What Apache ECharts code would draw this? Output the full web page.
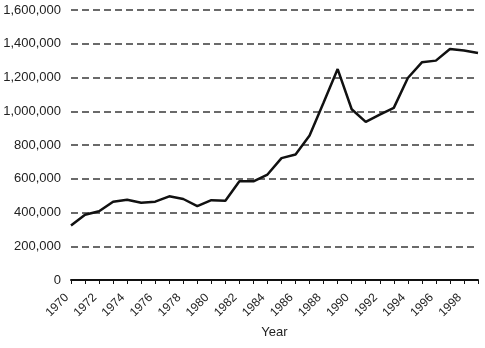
<!DOCTYPE html>
<html>
<head>
<meta charset="utf-8">
<script src="https://cdn.jsdelivr.net/npm/echarts@6/dist/echarts.min.js"></script>
<style>
html,body{margin:0;padding:0;background:#fff;}
#chart{width:485px;height:348px;}
</style>
</head>
<body>
<div id="chart"></div>
<script>
const years = ['1970','1971','1972','1973','1974','1975','1976','1977','1978','1979',
  '1980','1981','1982','1983','1984','1985','1986','1987','1988','1989',
  '1990','1991','1992','1993','1994','1995','1996','1997','1998','1999'];
const values = [323000, 387000, 407000, 464000, 476000, 458000, 464000, 496000, 480000, 438000,
  473000, 470000, 585000, 585000, 625000, 722000, 744000, 856000, 1052000, 1250000,
  1012000, 937000, 980000, 1020000, 1197000, 1290000, 1300000, 1369000, 1360000, 1345000];
const yMin = 0, yMax = 1600000, yStep = 200000;

const font = '"Liberation Sans", Arial, sans-serif';
const chart = echarts.init(document.getElementById('chart'));
chart.setOption({
  animation: false,
  backgroundColor: '#ffffff',
  grid: {left: 71, right: 7, top: 10, bottom: 68},
  xAxis: {
    type: 'category',
    data: years,
    boundaryGap: false,
    name: 'Year',
    nameLocation: 'middle',
    nameGap: 45,
    nameTextStyle: {fontFamily: font, fontSize: 13, color: '#222'},
    axisLine: {lineStyle: {color: '#111', width: 2}},
    axisTick: {show: true, length: 4, interval: 0, lineStyle: {color: '#111', width: 1}},
    axisLabel: {
      interval: 1, rotate: 45, margin: 20, verticalAlign: 'bottom',
      fontFamily: font, fontSize: 12, color: '#222'
    },
    splitLine: {show: false}
  },
  yAxis: {
    type: 'value',
    min: yMin, max: yMax, interval: yStep,
    axisLine: {show: false},
    axisTick: {show: false},
    axisLabel: {
      margin: 10,
      fontFamily: font, fontSize: 13, color: '#222',
      formatter: v => v.toLocaleString('en-US')
    },
    splitLine: {show: true, lineStyle: {color: '#6a6a6a', width: 2, type: [7, 4]}}
  },
  series: [{
    type: 'line',
    data: values,
    symbol: 'none',
    lineStyle: {color: '#111', width: 2.5}
  }]
});
</script>
</body>
</html>
